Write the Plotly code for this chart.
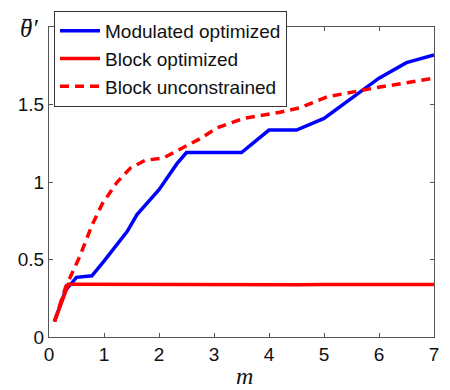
import plotly.graph_objects as go

# Modulated optimized
mod_x = [0.1, 0.3, 0.5, 0.78, 1.0, 1.25, 1.42, 1.6, 1.75, 2.0, 2.33, 2.5, 3.0, 3.5, 4.0, 4.5, 5.0, 5.5, 6.0, 6.5, 7.0]
mod_y = [0.1, 0.30, 0.385, 0.395, 0.49, 0.60, 0.68, 0.79, 0.85, 0.95, 1.12, 1.19, 1.19, 1.19, 1.335, 1.335, 1.41, 1.54, 1.67, 1.77, 1.82]

# Block optimized
blk_x = [0.1, 0.3, 0.35, 0.5, 1.0, 1.5, 2.0, 2.5, 3.0, 3.5, 4.0, 4.5, 5.0, 5.5, 6.0, 6.5, 7.0]
blk_y = [0.1, 0.30, 0.34, 0.34, 0.339, 0.340, 0.341, 0.338, 0.340, 0.337, 0.334, 0.337, 0.338, 0.338, 0.339, 0.335, 0.339]

# Block unconstrained
unc_x = [0.1, 0.3, 0.56, 0.78, 0.97, 1.24, 1.48, 1.75, 2.08, 2.39, 2.75, 3.06, 3.53, 4.2, 4.57, 5.06, 5.66, 5.97, 6.5, 7.0]
unc_y = [0.1, 0.32, 0.52, 0.72, 0.86, 1.00, 1.09, 1.14, 1.155, 1.21, 1.28, 1.35, 1.41, 1.45, 1.48, 1.55, 1.59, 1.61, 1.64, 1.67]

x_ticks = [0, 1, 2, 3, 4, 5, 6, 7]
y_ticks = [0, 0.5, 1, 1.5]
y_tick_text = ["0", "0.5", "1", "1.5"]

fig = go.Figure()
fig.add_trace(go.Scatter(x=mod_x, y=mod_y, mode="lines", name="Modulated optimized",
                         line=dict(color="#0000ff", width=3.5), legendgroup="a"))
fig.add_trace(go.Scatter(x=blk_x, y=blk_y, mode="lines", name="Block optimized",
                         line=dict(color="#ff0000", width=3.5), legendgroup="b"))
fig.add_trace(go.Scatter(x=unc_x, y=unc_y, mode="lines", name="Block unconstrained",
                         line=dict(color="#ff0000", width=3.5, dash="9px,6px"), legendgroup="c"))

axis_common = dict(showgrid=False, zeroline=False, showline=True, linecolor="#555555", linewidth=1,
                   mirror="ticks", ticks="inside", ticklen=4, tickcolor="#555555",
                   tickfont=dict(family="Liberation Sans, Arial", size=19, color="#111111"))

fig.update_layout(
    width=442, height=382,
    margin=dict(l=41, r=16, t=19, b=53, autoexpand=False),
    paper_bgcolor="white", plot_bgcolor="white",
    showlegend=True,
    legend=dict(x=0.013, y=1.052, xanchor="left", yanchor="top",
                bordercolor="#333333", borderwidth=1, bgcolor="white",
                font=dict(family="Liberation Sans, Arial", size=19, color="#111111"),
                tracegroupgap=5, traceorder="normal", itemwidth=40),
    xaxis=dict(range=[0, 7], tickvals=x_ticks, **axis_common),
    yaxis=dict(range=[0, 2], tickvals=y_ticks, ticktext=y_tick_text, **axis_common),
)

fig.add_annotation(xref="paper", yref="paper", x=-0.052, y=0.994, xanchor="center", yanchor="middle",
                   text="<i>θ′</i>", showarrow=False,
                   font=dict(family="Liberation Serif", size=25, color="#111111"))
fig.add_shape(type="line", xref="paper", yref="paper", x0=-0.068, x1=-0.046, y0=1.024, y1=1.024,
              line=dict(color="#111111", width=1.3))
fig.add_annotation(xref="paper", yref="paper", x=0.509, y=-0.127, xanchor="center", yanchor="middle",
                   text="<i>m</i>", showarrow=False,
                   font=dict(family="Liberation Serif", size=24, color="#111111"))

fig.write_html("out.html")
